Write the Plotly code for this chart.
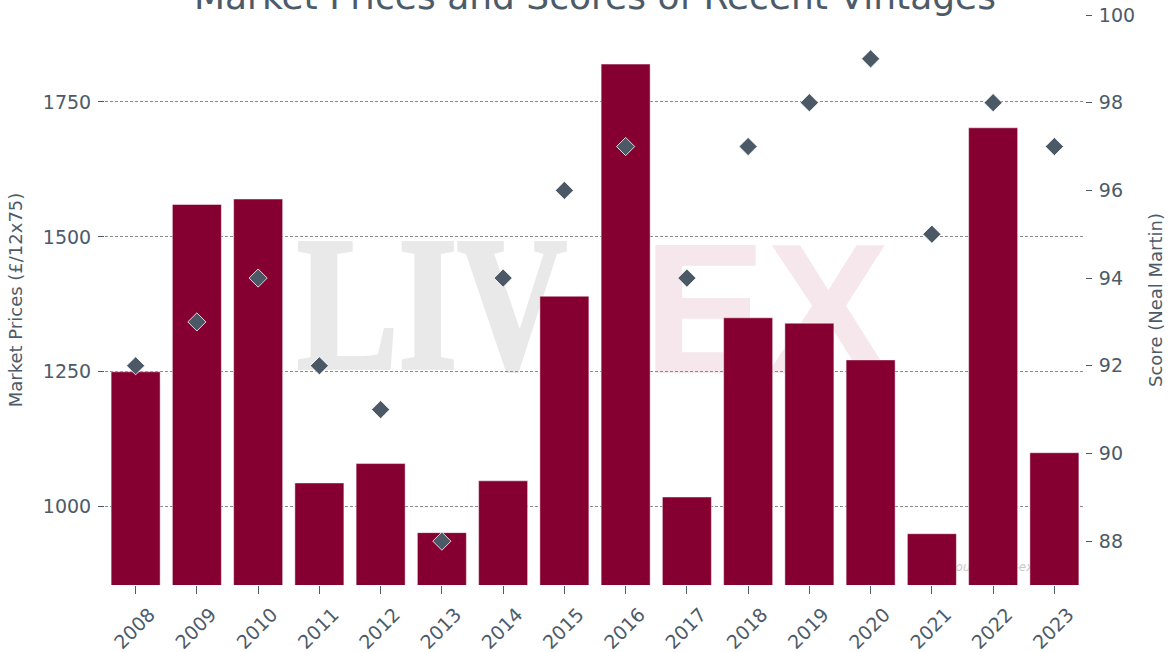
import base64
import plotly.graph_objects as go

vintages = ["2008", "2009", "2010", "2011", "2012", "2013", "2014", "2015",
            "2016", "2017", "2018", "2019", "2020", "2021", "2022", "2023"]
market_prices = [1250, 1560, 1570, 1044, 1080, 952, 1048, 1390,
                 1820, 1018, 1350, 1340, 1272, 950, 1702, 1100]
scores = [92, 93, 94, 92, 91, 88, 94, 96, 97, 94, 97, 98, 99, 95, 98, 97]

title_text = "Market Prices and Scores of Recent Vintages"
y1_title = "Market Prices (£/12x75)"
y2_title = "Score (Neal Martin)"

BAR = "#850030"
DOT = "#4b5967"
TXT = "#4d5b69"

# watermark (drawn below the plot through a layout image)
svg = (
    '<svg xmlns="http://www.w3.org/2000/svg" width="980" height="570" viewBox="0 0 980 570" preserveAspectRatio="none">'
    '<text x="192" y="353" font-family="Liberation Serif, Times New Roman, serif" font-weight="700" font-size="190" '
    'fill="#e9e9e9" stroke="#e9e9e9" stroke-width="4" textLength="270" lengthAdjust="spacingAndGlyphs">LIV</text>'
    '<text x="538" y="358" font-family="Liberation Sans, Arial, sans-serif" font-weight="700" font-size="185" '
    'fill="#f5e7eb" textLength="247" lengthAdjust="spacingAndGlyphs">EX</text>'
    '<text x="843" y="556" font-family="DejaVu Sans" font-style="italic" font-size="12" '
    'fill="#c9c9c9">Source: Liv-ex</text>'
    '</svg>'
)
svg_uri = "data:image/svg+xml;base64," + base64.b64encode(svg.encode("utf-8")).decode()

fig = go.Figure()
fig.add_trace(go.Bar(
    x=vintages, y=market_prices, name="Market Price",
    marker=dict(color=BAR, line=dict(color="rgba(255,255,255,0.45)", width=1)),
    yaxis="y",
))
fig.add_trace(go.Scatter(
    x=vintages, y=scores, name="Score", mode="markers",
    marker=dict(symbol="diamond", size=14, color=DOT,
                line=dict(color="rgba(255,255,255,0.8)", width=1)),
    yaxis="y2",
))

lo = min(market_prices) * 0.9
hi = max(market_prices) * 1.05

fig.update_layout(
    width=1169, height=652,
    margin=dict(l=105, r=84, t=15, b=67, autoexpand=False),
    paper_bgcolor="white", plot_bgcolor="white",
    font=dict(family="DejaVu Sans", color=TXT, size=19),
    showlegend=False,
    bargap=0.2,
    title=dict(text=title_text, x=0.5, xref="paper", xanchor="center",
               y=1.0, yref="paper", yanchor="bottom", automargin=False,
               pad=dict(b=6),
               font=dict(size=36, color=TXT, family="DejaVu Sans")),
    xaxis=dict(type="category", range=[-0.5, len(vintages) - 0.5],
               tickangle=-45, ticks="outside", ticklen=8,
               ticklabelstandoff=2, ticklabelshift=14,
               tickcolor=TXT, showgrid=False, showline=False, zeroline=False,
               automargin=False, tickfont=dict(size=19, color=TXT)),
    yaxis=dict(range=[lo, hi], tickvals=[1000, 1250, 1500, 1750],
               ticks="outside", ticklen=6, tickcolor=TXT, ticklabelstandoff=3,
               showgrid=True, gridcolor="#8a8a8a", gridwidth=1, griddash="3px,2px",
               zeroline=False, showline=False, automargin=False,
               title=dict(text=y1_title, font=dict(size=18, color=TXT)),
               tickfont=dict(size=19, color=TXT)),
    yaxis2=dict(range=[87, 100], dtick=2, tick0=88, overlaying="y", side="right",
                ticks="outside", ticklen=6, tickcolor=TXT, ticklabelstandoff=3,
                showgrid=False, zeroline=False, showline=False, automargin=False,
                title=dict(text=y2_title, font=dict(size=18, color=TXT)),
                tickfont=dict(size=19, color=TXT)),
    images=[dict(source=svg_uri, xref="paper", yref="paper", x=0, y=1,
                 sizex=1, sizey=1, sizing="stretch", xanchor="left", yanchor="top",
                 layer="below", opacity=1)],
)

fig.write_html("out.html", config={"displayModeBar": False},
               post_script="document.body.style.margin='0';")
